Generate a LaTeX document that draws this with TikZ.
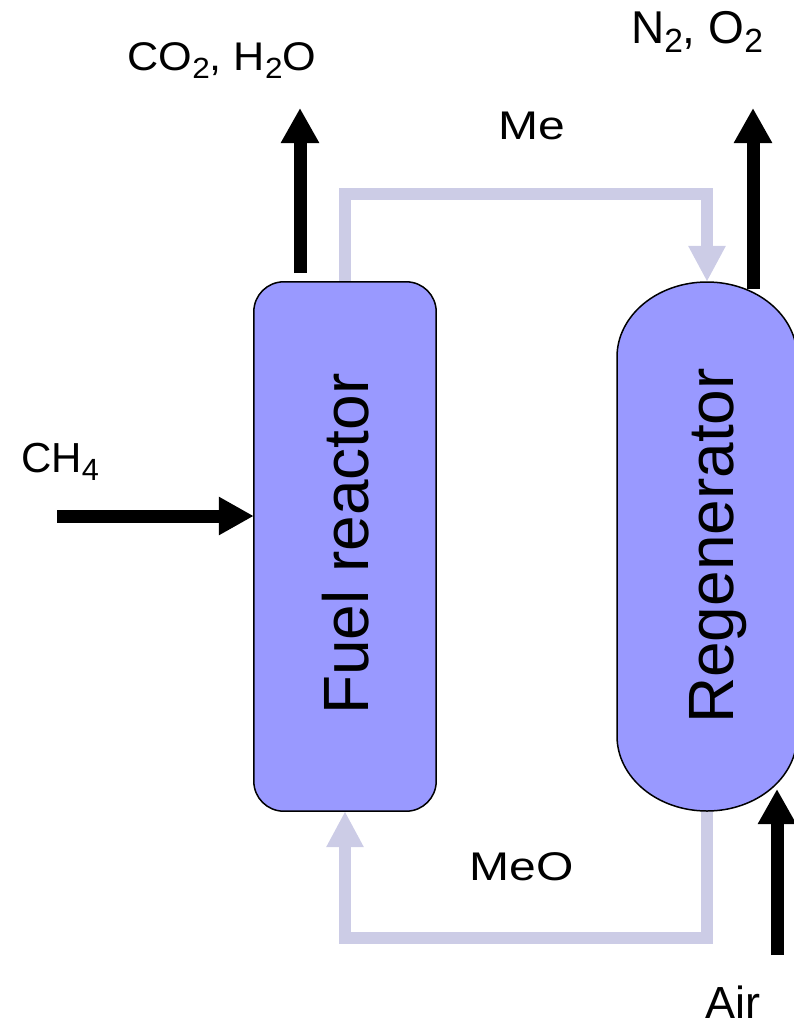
\documentclass[tikz,border=0pt]{standalone}
\usepackage{fontspec}
\usepackage{graphicx}
\setmainfont{Liberation Sans}
\usetikzlibrary{arrows.meta}
\definecolor{boxfill}{RGB}{153,153,255}
\definecolor{loopgray}{RGB}{204,204,230}
\newcommand\chemsub[1]{\raisebox{-0.21em}{\scalebox{0.73}{#1}}}
\tikzset{
  reactorbox/.style={draw=black, line width=1.5pt, fill=boxfill},
  flowarrow/.style={line width=13pt, black, -{Triangle[width=36pt,length=35pt]}},
  loopline/.style={line width=12pt, loopgray, line join=miter, -{Triangle[width=35pt,length=36pt]}},
  lbl/.style={inner sep=0pt, anchor=base, text=black},
  boxtext/.style={inner sep=0pt, anchor=base, rotate=90, font=\fontsize{64}{70}\selectfont}
}
\begin{document}
\begin{tikzpicture}[x=1pt,y=-1pt]
\useasboundingbox (0,0) rectangle (793,1028);
% placeholders for node geometry
\node[inner sep=0pt, minimum width=182pt, minimum height=529pt] (fuel) at (345,546.5) {};
\node[inner sep=0pt, minimum width=180pt, minimum height=529pt] (regen) at (707,546.5) {};
% loop lines
\draw[loopline] (fuel.north) -- ++(0,-88) -| (regen.north);
\draw[loopline] (regen.south) -- ++(0,127) -| (fuel.south);
% boxes
\draw[reactorbox, rounded corners=30pt] (fuel.south west) rectangle (fuel.north east);
\draw[reactorbox] (617,357) -- (617,736)
  arc[start angle=180, end angle=0, x radius=90, y radius=75]
  -- (797,357)
  arc[start angle=0, end angle=-180, x radius=90, y radius=75] -- cycle;
\node[boxtext] (fueltxt) at (368,544) {Fuel reactor};
\node[boxtext] (regentxt) at (733,546) {Regenerator};
% black flow arrows
\coordinate (co2s) at (300,273);
\coordinate (co2e) at (300,108);
\draw[flowarrow] (co2s) -- (co2e);
\coordinate (n2s) at (753,289);
\coordinate (n2e) at (753,108);
\draw[flowarrow] (n2s) -- (n2e);
\coordinate (ch4s) at (57,516);
\draw[flowarrow] (ch4s) -- (ch4s -| fuel.west);
\coordinate (airs) at (777,955);
\coordinate (aire) at (777,789);
\draw[flowarrow] (airs) -- (aire);
% labels
\node[lbl, font=\fontsize{40}{42}\selectfont, xscale=1.08] (co2lbl) at (222,70) {CO\chemsub{2}, H\chemsub{2}O};
\node[lbl, font=\fontsize{46}{48}\selectfont] (n2lbl) at (697,43) {N\chemsub{2}, O\chemsub{2}};
\node[lbl, font=\fontsize{40}{42}\selectfont, xscale=1.2] (melbl) at (532,139) {Me};
\node[lbl, font=\fontsize{40}{42}\selectfont, xscale=1.2] (meolbl) at (522,880) {MeO};
\node[lbl, font=\fontsize{42}{44}\selectfont] (ch4lbl) at (60,472) {CH\chemsub{4}};
\node[lbl, font=\fontsize{45}{47}\selectfont] (airlbl) at (733,1018) {Air};
\end{tikzpicture}
\end{document}
